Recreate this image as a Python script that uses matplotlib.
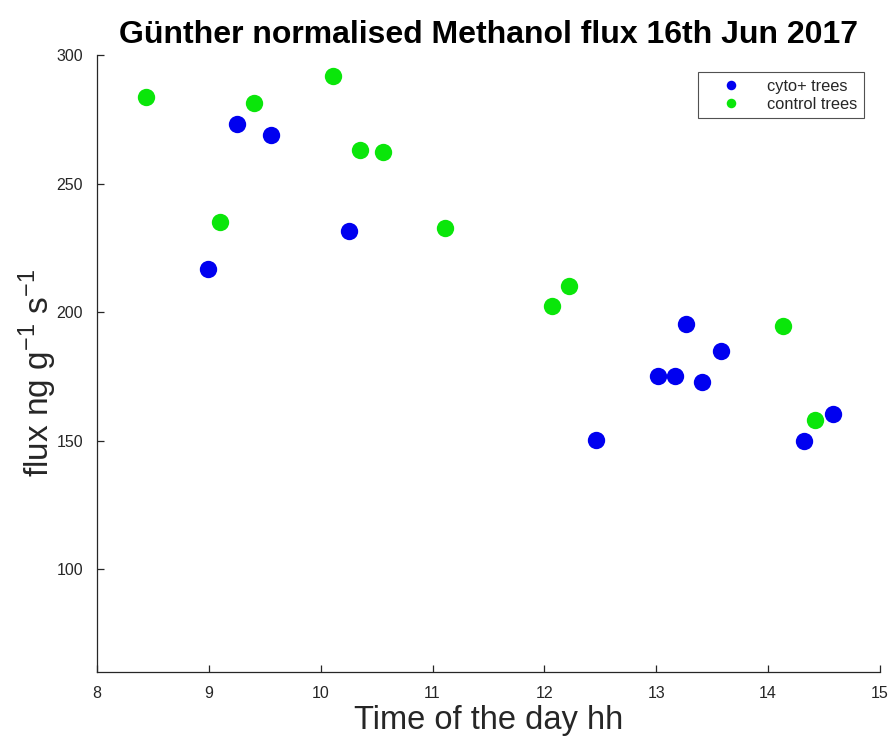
import matplotlib
matplotlib.use("Agg")
import matplotlib.pyplot as plt

plt.rcParams['font.family'] = ['Liberation Sans', 'DejaVu Sans']

# Sampling times (hour of day) and normalised methanol flux
cyto_time = [8.99, 9.25, 9.56, 10.25, 12.46, 13.02, 13.17, 13.27, 13.41, 13.58, 14.32, 14.58]
cyto_flux = [216.7, 273.0, 268.8, 231.4, 150.4, 175.1, 175.1, 195.5, 172.8, 185.0, 149.8, 160.4]

control_time = [8.44, 9.10, 9.40, 10.11, 10.35, 10.56, 11.11, 12.07, 12.22, 14.13, 14.42]
control_flux = [283.5, 234.9, 281.4, 292.0, 263.1, 262.4, 232.7, 202.5, 210.3, 194.7, 158.2]

x_ticks = [8, 9, 10, 11, 12, 13, 14, 15]
y_ticks = [100, 150, 200, 250, 300]

fig = plt.figure(figsize=(8.93, 7.44), dpi=100)
ax = fig.add_axes([0.1086, 0.0968, 0.8768, 0.8292])

ax.plot(cyto_time, cyto_flux, 'o', color='#0000f0', markersize=12.5,
        markeredgewidth=0, label='cyto+ trees')
ax.plot(control_time, control_flux, 'o', color='#0ae60a', markersize=12.5,
        markeredgewidth=0, label='control trees')

ax.set_xlim(8, 15)
ax.set_ylim(60, 300)
ax.set_xticks(x_ticks)
ax.set_yticks(y_ticks)

for side in ('top', 'right'):
    ax.spines[side].set_visible(False)
for side in ('left', 'bottom'):
    ax.spines[side].set_color('#262626')
    ax.spines[side].set_linewidth(0.9)

ax.tick_params(direction='in', length=5, width=0.9, colors='#262626',
               labelsize=11.5, pad=10)

ax.set_title('Günther normalised Methanol flux 16th Jun 2017',
             fontsize=23, fontweight='bold', pad=9)
ax.set_xlabel('Time of the day hh', fontsize=23.5, color='#262626', labelpad=3)
ax.set_ylabel(r'flux ng g$^{\mathregular{-1}}$ s$^{\mathregular{-1}}$',
              fontsize=24, color='#262626')
ax.yaxis.set_label_coords(-0.049, 0.485)

leg = ax.legend(loc='upper right', bbox_to_anchor=(0.9796, 0.9724),
                borderaxespad=0, fontsize=11.8, markerscale=0.55, frameon=True,
                fancybox=False, edgecolor='#262626', handletextpad=0.6,
                borderpad=0.4, labelspacing=0.2, handlelength=3.2)
leg.get_frame().set_linewidth(0.8)
for t in leg.get_texts():
    t.set_color('#262626')

fig.savefig('out.png', dpi=100)
